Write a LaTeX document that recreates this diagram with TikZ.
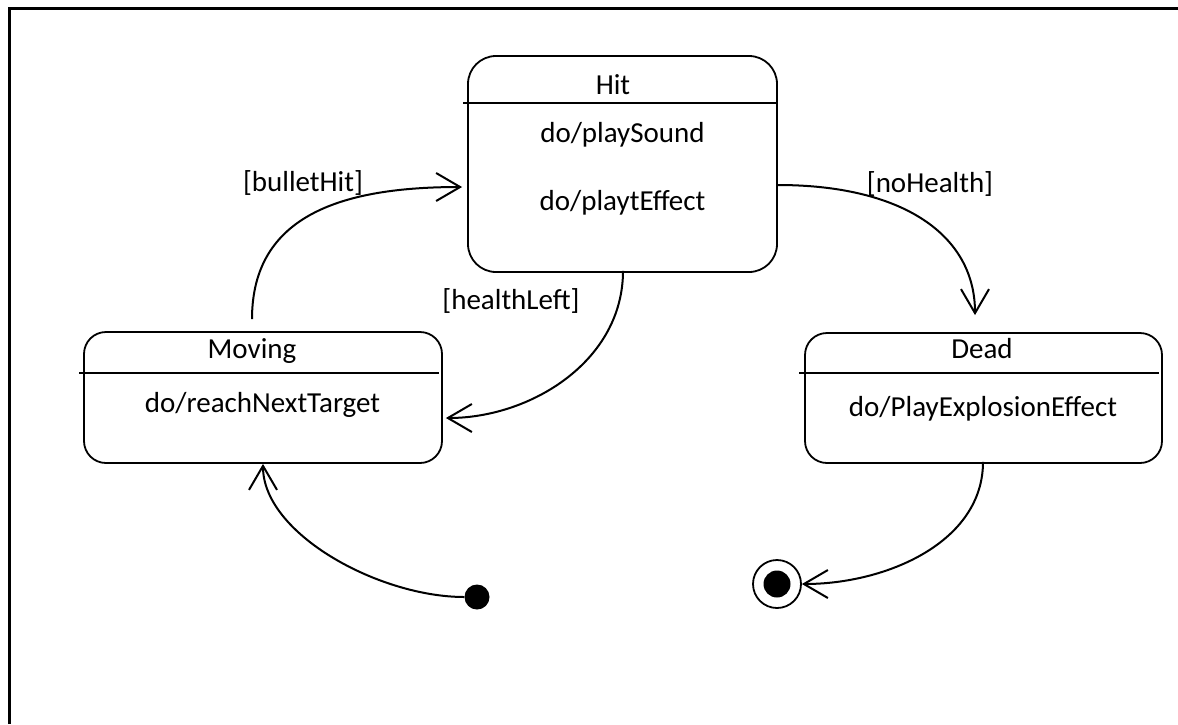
\documentclass[tikz,border=0pt]{standalone}
\usepackage{fontspec}
\setmainfont{Carlito}
\usetikzlibrary{arrows.meta,calc}
\tikzset{
  statebox/.style={draw, line width=1.8pt, rounded corners=28pt, inner sep=0pt},
  divider/.style={line width=1.8pt},
  txt/.style={anchor=base, inner sep=0pt, font=\fontsize{29}{34}\selectfont},
  trans/.style={line width=2pt, -{Straight Barb[length=24pt,width=28pt,line width=2pt]}},
}
\begin{document}
\begin{tikzpicture}[x=1pt,y=-1pt]
\useasboundingbox (0,0) rectangle (1178,724);
% frame
\draw[line width=3pt] (9,724) -- (9,8.5) -- (1178,8.5);
% states
\node[statebox, minimum width=309pt, minimum height=216pt] (hit) at (622.5,164) {};
\node[statebox, rounded corners=22pt, minimum width=358pt, minimum height=131pt] (moving) at (263,397.5) {};
\node[statebox, rounded corners=22pt, minimum width=357pt, minimum height=130pt] (dead) at (983.5,398) {};
% dividers
\draw[divider] ($(hit.north west)+(-4,48)$) -- ($(hit.north east)+(-2,48)$);
\draw[divider] ($(moving.north west)+(-4,42)$) -- ($(moving.north east)+(-4,42)$);
\draw[divider] ($(dead.north west)+(-5,41)$) -- ($(dead.north east)+(-4,41)$);
% texts
\node[txt] (hitT) at (613,94) {Hit};
\node[txt] (hitA) at (622.5,142) {do/playSound};
\node[txt] (hitB) at (622.5,210) {do/playtEffect};
\node[txt] (movT) at (252,358) {Moving};
\node[txt] (movA) at (262.5,412) {do/reachNextTarget};
\node[txt] (deadT) at (982,358) {Dead};
\node[txt] (deadA) at (983,416) {do/PlayExplosionEffect};
% pseudo states
\node[circle, fill=black, minimum size=25pt, inner sep=0pt] (init) at (477,597) {};
\node[circle, draw, line width=1.8pt, minimum size=48pt, inner sep=0pt] (final) at (777,584) {};
\node[circle, fill=black, minimum size=27pt, inner sep=0pt] (finalIn) at (final.center) {};
% transitions
\coordinate (b1) at ($(moving.north)+(-11,-12)$);
\coordinate (b2) at ($(hit.west)+(-5,23)$);
\draw[trans] (b1) .. controls ($(b1)+(0,-105)$) and ($(b2)+(-118,0)$) .. (b2);
\node[txt] (lblA) at (303,191) {[bulletHit]};

\coordinate (h1) at ($(hit.south)+(0.5,-2)$);
\coordinate (h2) at ($(moving.east)+(3,20.5)$);
\draw[trans] (h1) .. controls ($(h1)+(0,90)$) and ($(h2)+(85,0)$) .. (h2);
\node[txt] (lblB) at (511,309) {[healthLeft]};

\coordinate (n1) at ($(hit.east)+(0,21)$);
\coordinate (n2) at ($(dead.north)+(-8.5,-17)$);
\draw[trans] (n1) .. controls ($(n1)+(125,0)$) and ($(n2)+(0,-80)$) .. (n2);
\node[txt] (lblC) at (930,192) {[noHealth]};

\coordinate (m2) at ($(moving.south)+(0,0)$);
\draw[trans] (init.west) .. controls ($(init.west)+(-85,0)$) and ($(m2)+(0,70)$) .. (m2);

\coordinate (d1) at ($(dead.south)+(-0.5,-2)$);
\draw[trans] (d1) .. controls ($(d1)+(0,80)$) and ($(final.east)+(85,0)$) .. (final.east);
\end{tikzpicture}
\end{document}
